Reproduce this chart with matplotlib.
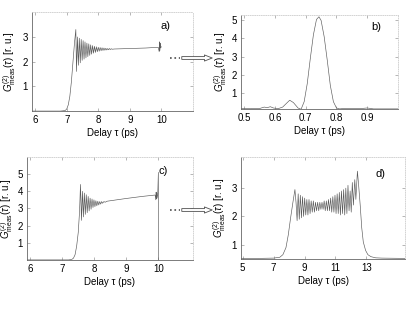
import numpy as np
import matplotlib
matplotlib.use('Agg')
import matplotlib.pyplot as plt
from matplotlib.lines import Line2D
from matplotlib.patches import FancyArrowPatch

plt.rcParams['font.family'] = ['Liberation Sans', 'DejaVu Sans']
plt.rcParams['mathtext.fontset'] = 'custom'
plt.rcParams['mathtext.rm'] = 'Liberation Sans'
plt.rcParams['mathtext.it'] = 'Liberation Sans:italic'

# a) measured G2 vs delay, first pulse
xa = [5.9, 6.8, 6.95, 7.0, 7.05, 7.1, 7.15, 7.2, 7.25, 7.29,
      7.31, 7.34, 7.37, 7.40, 7.43, 7.46, 7.49, 7.52, 7.55, 7.58,
      7.61, 7.64, 7.67, 7.70, 7.73, 7.76, 7.79, 7.82, 7.85, 7.88,
      7.91, 7.94, 7.97, 8.00, 8.03, 8.06, 8.09, 8.12, 8.15, 8.18,
      8.21, 8.24, 8.27, 8.30, 8.33, 8.36, 8.39, 8.42, 8.45, 8.50,
      9.0, 9.5, 9.9, 9.93, 9.94, 9.95, 9.96, 9.97, 10.0]
ya = [0.0, 0.0, 0.02, 0.08, 0.25, 0.6, 1.2, 2.0, 2.8, 3.3,
      1.6, 3.0, 1.85, 2.95, 1.95, 2.9, 2.05, 2.85, 2.1, 2.8,
      2.15, 2.75, 2.2, 2.72, 2.25, 2.68, 2.3, 2.65, 2.34, 2.62,
      2.37, 2.6, 2.4, 2.58, 2.42, 2.57, 2.44, 2.56, 2.45, 2.55,
      2.46, 2.54, 2.47, 2.53, 2.48, 2.53, 2.49, 2.52, 2.5, 2.51,
      2.53, 2.55, 2.58, 2.4, 2.8, 2.45, 2.75, 2.55, 2.6]

# b) zoom on main peak
xb = [0.49, 0.52, 0.55, 0.565, 0.575, 0.585, 0.595, 0.61, 0.625, 0.64,
      0.648, 0.66, 0.675, 0.685, 0.695, 0.705, 0.715, 0.725, 0.735, 0.743,
      0.75, 0.76, 0.77, 0.78, 0.79, 0.80, 0.81, 0.83, 0.85, 0.88,
      0.90, 0.92, 1.0]
yb = [0.12, 0.11, 0.12, 0.2, 0.17, 0.22, 0.15, 0.11, 0.2, 0.45,
      0.58, 0.45, 0.15, 0.08, 0.5, 1.5, 2.9, 4.2, 5.05, 5.2,
      5.0, 4.1, 2.8, 1.4, 0.5, 0.15, 0.1, 0.13, 0.11, 0.12,
      0.15, 0.1, 0.1]

# c) measured G2 vs delay, second pulse
xc = [5.9, 7.2, 7.3, 7.35, 7.4, 7.45, 7.5, 7.54, 7.57,
      7.60, 7.63, 7.66, 7.69, 7.72, 7.75, 7.78, 7.81, 7.84, 7.87,
      7.90, 7.93, 7.96, 7.99, 8.02, 8.05, 8.08, 8.11, 8.14, 8.17,
      8.20, 8.23, 8.26, 8.30, 8.34, 8.40, 9.0, 9.5, 9.9,
      9.92, 9.93, 9.94, 9.95, 9.96, 9.98, 10.0, 10.0]
yc = [0.0, 0.0, 0.03, 0.1, 0.3, 0.8, 1.6, 2.8, 4.4,
      2.3, 4.0, 2.5, 3.9, 2.65, 3.8, 2.75, 3.7, 2.85, 3.6,
      2.95, 3.55, 3.05, 3.5, 3.1, 3.45, 3.15, 3.42, 3.2, 3.4,
      3.25, 3.4, 3.3, 3.4, 3.36, 3.42, 3.58, 3.7, 3.78,
      3.5, 3.95, 3.55, 3.9, 3.6, 3.8, 5.1, 0.0]

# d) broad pulse
xd = [4.9, 6.0, 7.0, 7.4, 7.6, 7.8, 7.95, 8.1, 8.25, 8.38, 8.45,
      8.52, 8.59, 8.66, 8.73, 8.80, 8.87, 8.94, 9.01, 9.08, 9.15,
      9.22, 9.29, 9.36, 9.43, 9.50, 9.57, 9.64, 9.71, 9.78, 9.85,
      9.92, 9.99, 10.06, 10.13, 10.20, 10.27, 10.34, 10.41, 10.48, 10.55,
      10.62, 10.69, 10.76, 10.83, 10.90, 10.97, 11.04, 11.11, 11.18, 11.25,
      11.32, 11.39, 11.46, 11.53, 11.60, 11.67, 11.74, 11.81, 11.88, 11.95,
      12.02, 12.09, 12.16, 12.25, 12.32, 12.42, 12.5, 12.6, 12.7, 12.8,
      12.95, 13.1, 13.3, 13.6, 14.0, 15.5]
yd = [0.52, 0.52, 0.53, 0.56, 0.65, 0.9, 1.35, 1.95, 2.5, 2.95, 2.5,
      1.85, 2.8, 1.9, 2.75, 1.95, 2.7, 2.0, 2.65, 2.05, 2.6,
      2.05, 2.6, 2.1, 2.55, 2.15, 2.55, 2.15, 2.5, 2.2, 2.5,
      2.2, 2.5, 2.25, 2.5, 2.25, 2.55, 2.2, 2.55, 2.2, 2.6,
      2.2, 2.65, 2.15, 2.7, 2.15, 2.75, 2.1, 2.8, 2.1, 2.85,
      2.05, 2.9, 2.1, 2.95, 2.05, 3.0, 2.1, 3.1, 2.2, 2.9,
      2.15, 3.2, 2.4, 3.3, 2.6, 3.6, 3.1, 2.4, 1.6, 1.1,
      0.8, 0.65, 0.58, 0.54, 0.53, 0.52]

ylab = r'$G^{(2)}_{\mathrm{meas}}(\tau)$ [r. u.]'

fig = plt.figure(figsize=(4.15, 3.12), dpi=100)

def panel(rect, x, y, xlim, ylim, xt, yt, tag, tagpos, labx):
    ax = fig.add_axes(rect)
    ax.plot(x, y, color='0.35', lw=0.45)
    ax.set_xlim(xlim)
    ax.set_ylim(ylim)
    ax.set_xticks(xt)
    ax.set_yticks(yt)
    ax.tick_params(direction='in', length=2, width=0.5, labelsize=7,
                   top=True, right=True, color='0.6', pad=3)
    for s in ['top', 'right']:
        ax.spines[s].set_color('0.8')
        ax.spines[s].set_linestyle(':')
    for s in ['left', 'bottom']:
        ax.spines[s].set_color('0.4')
    for s in ax.spines.values():
        s.set_linewidth(0.6)
    ax.set_xlabel('Delay τ (ps)', fontsize=7, labelpad=2)
    ax.set_ylabel(ylab, fontsize=7)
    ax.yaxis.set_label_coords(labx, 0.5)
    ax.text(tagpos[0], tagpos[1], tag, transform=ax.transAxes, fontsize=8)
    return ax

panel([0.077, 0.644, 0.388, 0.317], xa, ya, (5.9, 11.0), (0, 4),
      [6, 7, 8, 9, 10], [1, 2, 3], 'a)', (0.8, 0.83), -0.085)
panel([0.581, 0.651, 0.378, 0.301], xb, yb, (0.49, 1.0), (0.1, 5.3),
      [0.5, 0.6, 0.7, 0.8, 0.9], [1, 2, 3, 4, 5], 'b)', (0.83, 0.84), -0.08)
panel([0.065, 0.167, 0.400, 0.330], xc, yc, (5.9, 11.08), (0, 6),
      [6, 7, 8, 9, 10], [1, 2, 3, 4, 5], 'c)', (0.79, 0.83), -0.07)
panel([0.581, 0.170, 0.395, 0.327], xd, yd, (4.9, 15.5), (0.5, 4.1),
      [5, 7, 9, 11, 13], [1, 2, 3], 'd)', (0.82, 0.8), -0.08)

# hollow arrows between panels
for yy in [312 - 58, 312 - 210]:
    fig.add_artist(Line2D([170 / 415, 180 / 415], [yy / 312, yy / 312],
                          color='0.3', lw=1.2, ls=':'))
    fig.patches.append(FancyArrowPatch(
        (179, yy), (215, yy), transform=None,
        arrowstyle='simple,head_length=0.7,head_width=0.55,tail_width=0.25',
        mutation_scale=8, fc='white', ec='0.3', lw=0.6))

fig.savefig('out.png', dpi=100)
